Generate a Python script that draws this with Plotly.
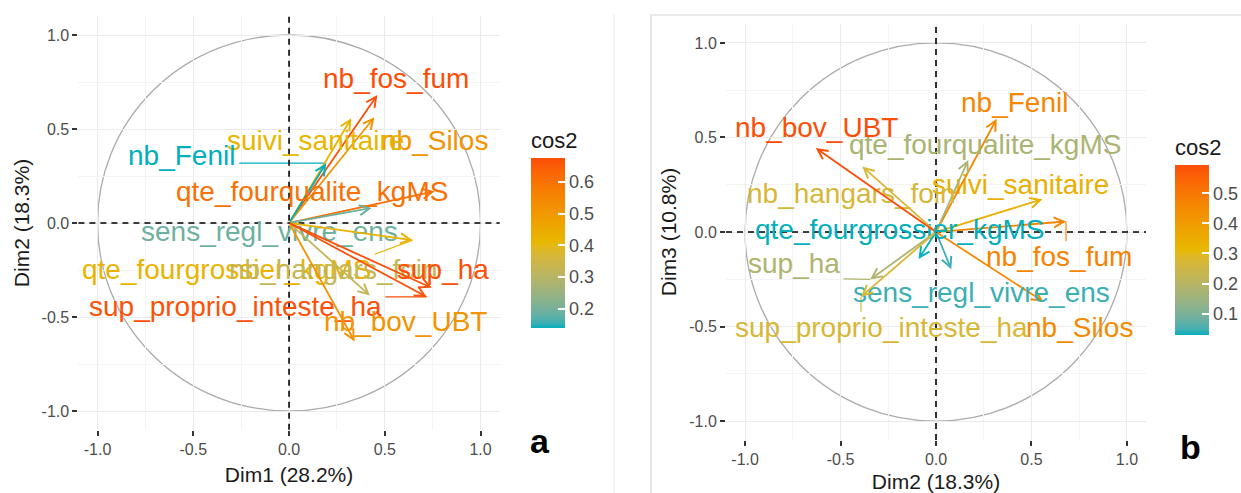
import plotly.graph_objects as go
from plotly.colors import sample_colorscale

# ---------------- data (PCA variable coordinates) ----------------
variables = ["nb_fos_fum", "nb_Silos", "suivi_sanitaire", "nb_Fenil",
             "qte_fourqualite_kgMS", "sens_regl_vivre_ens", "qte_fourgrossier_kgMS",
             "nb_hangars_foin", "sup_ha", "sup_proprio_inteste_ha", "nb_bov_UBT"]
dim1 = [0.461, 0.446, 0.325, 0.194, 0.760, 0.431, 0.645, 0.422, 0.745, 0.719, 0.343]
dim2 = [0.681, 0.563, 0.557, 0.318, 0.169, 0.080, -0.091, -0.386, -0.345, -0.393, -0.630]
dim3 = [0.056, -0.369, 0.173, 0.599, 0.381, -0.197, -0.143, 0.346, -0.251, -0.342, 0.444]

axis_ticks = [-1.0, -0.5, 0.0, 0.5, 1.0]
axis_ticktext = ["-1.0", "-0.5", "0.0", "0.5", "1.0"]
minor_ticks = [-0.75, -0.25, 0.25, 0.75]
cos2_ticks = [0.1, 0.2, 0.3, 0.4, 0.5, 0.6]
gradient_cols = ["#00AFBB", "#E7B800", "#FC4E07"]

cos2_a = [x * x + y * y for x, y in zip(dim1, dim2)]
cos2_b = [x * x + y * y for x, y in zip(dim2, dim3)]

# ---------------- layout (label placements, as in ggrepel output) ----------------
labels_a = {
    "nb_fos_fum": (0.557, 0.767), "nb_Silos": (0.757, 0.440),
    "suivi_sanitaire": (0.136, 0.440), "nb_Fenil": (-0.561, 0.361),
    "qte_fourqualite_kgMS": (0.118, 0.170), "sens_regl_vivre_ens": (-0.100, -0.046),
    "qte_fourgrossier_kgMS": (-0.329, -0.249), "nb_hangars_foin": (0.232, -0.249),
    "sup_ha": (0.802, -0.249), "sup_proprio_inteste_ha": (-0.282, -0.444),
    "nb_bov_UBT": (0.610, -0.524),
}
labels_b = {
    "nb_bov_UBT": (-0.625, 0.552), "nb_Fenil": (0.412, 0.685),
    "qte_fourqualite_kgMS": (0.256, 0.463), "nb_hangars_foin": (-0.443, 0.206),
    "suivi_sanitaire": (0.443, 0.250), "qte_fourgrossier_kgMS": (-0.191, 0.011),
    "nb_fos_fum": (0.646, -0.131), "sup_ha": (-0.746, -0.166),
    "sens_regl_vivre_ens": (0.239, -0.318), "sup_proprio_inteste_ha": (-0.286, -0.504),
    "nb_Silos": (0.750, -0.504),
}

W, H = 1241, 493
FONT = "Liberation Sans"
LABEL_SIZE = 28
RNG = [-1.1, 1.1]
# panel pixel boxes: (left, right, top, bottom)
panel_a = (78.4, 499.7, 16.2, 429.8)
panel_b = (726.0, 1146.0, 24.0, 440.0)


# ---- colour scale interpolated in CIE Lab, like ggplot2's scale_colour_gradientn ----
def _hex2rgb(h):
    h = h.lstrip("#")
    return [int(h[i:i + 2], 16) / 255 for i in (0, 2, 4)]


def _lin(c):
    return c / 12.92 if c <= 0.04045 else ((c + 0.055) / 1.055) ** 2.4


def _gam(c):
    c = min(max(c, 0.0), 1.0)
    return 12.92 * c if c <= 0.0031308 else 1.055 * c ** (1 / 2.4) - 0.055


WHITE = (0.95047, 1.0, 1.08883)


def _f(t):
    return t ** (1 / 3) if t > 0.008856 else 7.787 * t + 16 / 116


def _finv(t):
    return t ** 3 if t ** 3 > 0.008856 else (t - 16 / 116) / 7.787


def hex2lab(h):
    r, g, b = [_lin(c) for c in _hex2rgb(h)]
    X = 0.4124 * r + 0.3576 * g + 0.1805 * b
    Y = 0.2126 * r + 0.7152 * g + 0.0722 * b
    Z = 0.0193 * r + 0.1192 * g + 0.9505 * b
    fx, fy, fz = _f(X / WHITE[0]), _f(Y / WHITE[1]), _f(Z / WHITE[2])
    return (116 * fy - 16, 500 * (fx - fy), 200 * (fy - fz))


def lab2rgbstr(L, a, b):
    fy = (L + 16) / 116
    fx = fy + a / 500
    fz = fy - b / 200
    X, Y, Z = _finv(fx) * WHITE[0], _finv(fy) * WHITE[1], _finv(fz) * WHITE[2]
    r = 3.2406 * X - 1.5372 * Y - 0.4986 * Z
    g = -0.9689 * X + 1.8758 * Y + 0.0415 * Z
    bb = 0.0557 * X - 0.2040 * Y + 1.0570 * Z
    return "rgb(%d,%d,%d)" % tuple(round(_gam(c) * 255) for c in (r, g, bb))


labs = [hex2lab(c) for c in gradient_cols]
colorscale = []
NSTOP = 40
for i in range(NSTOP + 1):
    p = i / NSTOP
    seg = min(int(p * (len(labs) - 1)), len(labs) - 2)
    u = p * (len(labs) - 1) - seg
    L = [labs[seg][k] * (1 - u) + labs[seg + 1][k] * u for k in range(3)]
    colorscale.append([p, lab2rgbstr(*L)])

CW = {'a': .556, 'b': .556, 'c': .5, 'd': .556, 'e': .556, 'f': .278, 'g': .556, 'h': .556,
      'i': .222, 'k': .5, 'l': .222, 'm': .833, 'n': .556, 'o': .556, 'p': .556, 'q': .556,
      'r': .333, 's': .5, 't': .278, 'u': .556, 'v': .5, '_': .556, 'B': .667, 'F': .611,
      'M': .833, 'S': .667, 'T': .611, 'U': .722}


def text_w(s):
    return sum(CW.get(c, .556) for c in s) * LABEL_SIZE


def col_for(v, vals):
    lo, hi = min(vals), max(vals)
    return sample_colorscale(colorscale, [(v - lo) / (hi - lo)])[0]


fig = go.Figure()
annotations = []
shapes = []


def add_panel(xs, ys, cos2, labels, xa, ya, box, cax):
    l, r, t, b = box
    sx = (r - l) / (RNG[1] - RNG[0])
    sy = (b - t) / (RNG[1] - RNG[0])
    to_px = lambda x, y: (l + (x - RNG[0]) * sx, t + (RNG[1] - y) * sy)
    to_dat = lambda px, py: (RNG[0] + (px - l) / sx, RNG[1] - (py - t) / sy)
    shapes.append(dict(type="circle", xref=xa, yref=ya, x0=-1, x1=1, y0=-1, y1=1,
                       line=dict(color="#ABABAB", width=1.3), layer="below"))
    shapes.append(dict(type="line", xref=xa, yref=ya + " domain", x0=0, x1=0, y0=0, y1=1,
                       line=dict(color="black", width=1.6, dash="6px,5px")))
    shapes.append(dict(type="line", xref=xa + " domain", yref=ya, x0=0, x1=1, y0=0, y1=0,
                       line=dict(color="black", width=1.6, dash="6px,5px")))
    for name, x, y, c in zip(variables, xs, ys, cos2):
        color = col_for(c, cos2)
        lx, ly = labels[name]
        cx, cy = to_px(lx, ly)
        tx, ty = to_px(x, y)
        hw = text_w(name) / 2 + 4
        hh = 15.5
        nx = min(max(tx, cx - hw), cx + hw)
        ny = min(max(ty, cy - hh), cy + hh)
        if ((nx - tx) ** 2 + (ny - ty) ** 2) ** 0.5 > 14:
            sxd, syd = to_dat(nx, ny)
            fig.add_trace(go.Scatter(x=[sxd, x], y=[syd, y], mode="lines",
                                     line=dict(color=color, width=1.2),
                                     xaxis=xa, yaxis=ya, hoverinfo="skip", showlegend=False))
        annotations.append(dict(x=x, y=y, ax=0, ay=0, xref=xa, yref=ya, axref=xa, ayref=ya,
                                text="", showarrow=True, arrowhead=5, arrowsize=1.1,
                                arrowwidth=1.8, arrowcolor=color, standoff=0))
        annotations.append(dict(x=lx, y=ly, xref=xa, yref=ya, text=name, showarrow=False,
                                xanchor="center", yanchor="middle",
                                font=dict(family=FONT, size=LABEL_SIZE, color=color)))
    fig.add_trace(go.Scatter(x=xs, y=ys, mode="markers", xaxis=xa, yaxis=ya,
                             marker=dict(color=cos2, coloraxis=cax, size=0.1, opacity=0),
                             hoverinfo="skip", showlegend=False))


add_panel(dim1, dim2, cos2_a, labels_a, "x", "y", panel_a, "coloraxis")
add_panel(dim2, dim3, cos2_b, labels_b, "x2", "y2", panel_b, "coloraxis2")


def axis(box, horizontal, title, anchor, standoff):
    l, r, t, b = box
    dom = [l / W, r / W] if horizontal else [1 - b / H, 1 - t / H]
    return dict(domain=dom, range=RNG, anchor=anchor, tickvals=axis_ticks,
                ticktext=axis_ticktext, ticks="outside", ticklen=5, tickwidth=1.5,
                tickcolor="#333333", showgrid=True, gridcolor="#EBEBEB", gridwidth=1.2,
                minor=dict(tickvals=minor_ticks, showgrid=True, gridcolor="#F4F4F4",
                           gridwidth=0.8, ticks=""),
                zeroline=False, showline=False, automargin=False,
                tickfont=dict(family=FONT, size=16, color="#4D4D4D"),
                title=dict(text=title, font=dict(family=FONT, size=21, color="#1A1A1A"),
                           standoff=standoff))


def cbar(px_left, py_center):
    return dict(title=dict(text="cos2", side="top", font=dict(family=FONT, size=22, color="#1A1A1A")),
                thickness=34, thicknessmode="pixels", len=200, lenmode="pixels",
                x=px_left / W, xanchor="left", y=1 - py_center / H, yanchor="middle",
                xpad=0, ypad=0, outlinewidth=0, ticks="inside", ticklen=7,
                tickcolor="white", tickwidth=1.5, tickvals=cos2_ticks, tickformat=".1f",
                tickfont=dict(family=FONT, size=18, color="#4D4D4D"))


annotations.append(dict(x=540 / W, y=1 - 441 / H, xref="paper", yref="paper", text="<b>a</b>",
                        xanchor="center", yanchor="middle",
                        showarrow=False, font=dict(family=FONT, size=34, color="black")))
annotations.append(dict(x=1190 / W, y=1 - 447 / H, xref="paper", yref="paper", text="<b>b</b>",
                        xanchor="center", yanchor="middle",
                        showarrow=False, font=dict(family=FONT, size=34, color="black")))
shapes.append(dict(type="rect", xref="paper", yref="paper", x0=651 / W, x1=1.01,
                   y0=-0.01, y1=1 - 15 / H, line=dict(color="#D6D6D6", width=1.2), layer="below"))
shapes.append(dict(type="line", xref="paper", yref="paper", x0=614 / W, x1=614 / W,
                   y0=0, y1=1 - 14 / H, line=dict(color="#EEEEEE", width=1.2), layer="below"))

fig.update_layout(
    width=W, height=H, margin=dict(l=0, r=0, t=0, b=0, autoexpand=False),
    paper_bgcolor="white", plot_bgcolor="white", showlegend=False,
    font=dict(family=FONT),
    xaxis=axis(panel_a, True, "Dim1 (28.2%)", "y", 10),
    yaxis=axis(panel_a, False, "Dim2 (18.3%)", "x", 6),
    xaxis2=axis(panel_b, True, "Dim2 (18.3%)", "y2", 9),
    yaxis2=axis(panel_b, False, "Dim3 (10.8%)", "x2", 6),
    coloraxis=dict(colorscale=colorscale, cmin=min(cos2_a), cmax=max(cos2_a),
                   colorbar=cbar(531, 228)),
    coloraxis2=dict(colorscale=colorscale, cmin=min(cos2_b), cmax=max(cos2_b),
                    colorbar=cbar(1175, 235)),
    annotations=annotations, shapes=shapes,
)

fig.write_html("out.html", config={"displayModeBar": False},
               post_script="document.body.style.margin='0px';document.body.style.overflow='hidden';")
